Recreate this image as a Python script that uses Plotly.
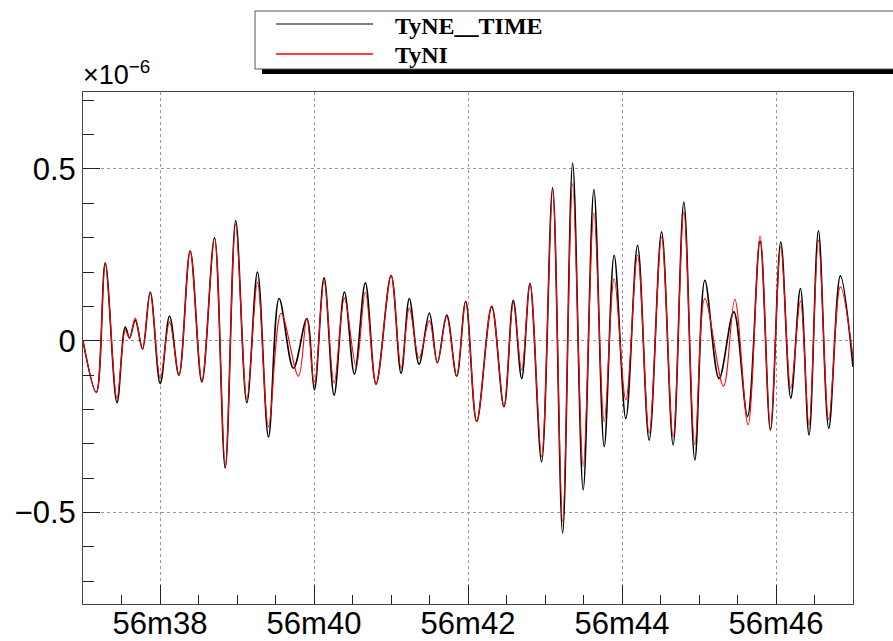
import plotly.graph_objects as go

# ---- data (seconds after 56m, values in units of 1e-6) ----
tyne_t = [37.000, 37.173, 37.289, 37.441, 37.549, 37.605, 37.679, 37.773, 37.873, 38.003,
          38.124, 38.246, 38.392, 38.544, 38.708, 38.847, 38.983, 39.128, 39.266, 39.409,
          39.547, 39.733, 39.907, 40.005, 40.131, 40.261, 40.395, 40.525, 40.667, 40.806,
          41.001, 41.131, 41.238, 41.364, 41.498, 41.602, 41.724, 41.853, 41.970, 42.113,
          42.308, 42.467, 42.588, 42.697, 42.805, 42.956, 43.099, 43.229, 43.359, 43.496,
          43.635, 43.769, 43.898, 44.050, 44.202, 44.353, 44.514, 44.664, 44.803, 44.946,
          45.076, 45.261, 45.452, 45.630, 45.793, 45.928, 46.062, 46.192, 46.317, 46.429,
          46.551, 46.685, 46.836, 47.000]
tyne_v = [0.0, -0.15, 0.226, -0.18, 0.04, 0.008, 0.06, -0.024, 0.142, -0.125,
          0.072, -0.10, 0.262, -0.12, 0.30, -0.37, 0.35, -0.18, 0.20, -0.28,
          0.123, -0.08, 0.065, -0.143, 0.183, -0.158, 0.142, -0.097, 0.169, -0.126,
          0.19, -0.095, 0.123, -0.068, 0.081, -0.064, 0.075, -0.103, 0.115, -0.235,
          0.10, -0.192, 0.118, -0.11, 0.167, -0.352, 0.445, -0.56, 0.517, -0.434,
          0.44, -0.308, 0.249, -0.226, 0.278, -0.289, 0.317, -0.303, 0.404, -0.347,
          0.176, -0.11, 0.084, -0.22, 0.29, -0.26, 0.288, -0.167, 0.152, -0.274,
          0.32, -0.255, 0.189, -0.076]

tyni_t = [37.000, 37.173, 37.289, 37.441, 37.549, 37.605, 37.679, 37.773, 37.873, 38.003,
          38.124, 38.246, 38.392, 38.544, 38.708, 38.847, 38.983, 39.128, 39.266, 39.409,
          39.573, 39.798, 39.907, 40.005, 40.131, 40.261, 40.395, 40.547, 40.667, 40.806,
          41.001, 41.131, 41.238, 41.364, 41.498, 41.602, 41.724, 41.853, 41.970, 42.113,
          42.308, 42.467, 42.588, 42.697, 42.805, 42.956, 43.099, 43.229, 43.359, 43.496,
          43.635, 43.769, 43.898, 44.050, 44.202, 44.353, 44.514, 44.664, 44.803, 44.946,
          45.076, 45.318, 45.465, 45.637, 45.793, 45.928, 46.062, 46.192, 46.317, 46.429,
          46.551, 46.685, 46.836, 47.000]
tyni_v = [0.0, -0.15, 0.226, -0.167, 0.03, 0.008, 0.066, -0.024, 0.142, -0.11,
          0.055, -0.10, 0.26, -0.115, 0.30, -0.366, 0.34, -0.17, 0.17, -0.25,
          0.08, -0.103, 0.065, -0.13, 0.175, -0.123, 0.124, -0.075, 0.142, -0.126,
          0.19, -0.08, 0.095, -0.05, 0.058, -0.064, 0.07, -0.103, 0.115, -0.235,
          0.099, -0.192, 0.11, -0.085, 0.167, -0.337, 0.44, -0.526, 0.457, -0.366,
          0.372, -0.235, 0.181, -0.172, 0.249, -0.268, 0.302, -0.279, 0.375, -0.303,
          0.123, -0.132, 0.121, -0.245, 0.305, -0.26, 0.273, -0.138, 0.116, -0.245,
          0.293, -0.23, 0.157, -0.047]

x_tick_vals = [38, 40, 42, 44, 46]
x_tick_text = ["56m38", "56m40", "56m42", "56m44", "56m46"]
y_tick_vals = [-0.5, 0, 0.5]
y_tick_text = ["\u22120.5", "0", "0.5"]
series_names = ["TyNE__TIME", "TyNI"]
series_colors = ["#000000", "#ff0000"]

fig = go.Figure()
fig.add_trace(go.Scatter(x=tyne_t, y=tyne_v, mode="lines", name=series_names[0],
                         line=dict(color=series_colors[0], width=1.6, shape="spline", smoothing=1.0),
                         showlegend=False, hoverinfo="skip"))
fig.add_trace(go.Scatter(x=tyni_t, y=tyni_v, mode="lines", name=series_names[1],
                         line=dict(color=series_colors[1], width=1.1, shape="spline", smoothing=1.0),
                         showlegend=False, hoverinfo="skip"))

tickfont = dict(family="Liberation Sans, Arial, sans-serif", size=31, color="black")
fig.update_xaxes(range=[37, 47], tickmode="array", tickvals=x_tick_vals, ticktext=x_tick_text,
                 ticks="inside", ticklen=19, tickwidth=1, tickcolor="#222",
                 minor=dict(tickmode="linear", tick0=37, dtick=0.5, ticks="inside", ticklen=9,
                            tickcolor="#222", showgrid=False),
                 showgrid=True, gridcolor="#999", griddash="3px,3px", gridwidth=1,
                 showline=True, linecolor="#444", linewidth=1, mirror=True,
                 zeroline=False, tickfont=tickfont, automargin=False, ticklabelstandoff=-8)
fig.update_yaxes(range=[-0.766, 0.724], tickmode="array", tickvals=y_tick_vals, ticktext=y_tick_text,
                 ticks="inside", ticklen=17, tickwidth=1, tickcolor="#222",
                 minor=dict(tickmode="linear", tick0=0, dtick=0.1, ticks="inside", ticklen=11,
                            tickcolor="#222", showgrid=False),
                 showgrid=True, gridcolor="#999", griddash="3px,3px", gridwidth=1,
                 showline=True, linecolor="#444", linewidth=1, mirror=True,
                 zeroline=False, tickfont=tickfont, automargin=False)

# ---- legend drawn ROOT-style (box with shadow) ----
shapes = [
    dict(type="rect", xref="paper", yref="paper", x0=0.2325, x1=1.08, y0=1.0352, y1=1.1465,
         fillcolor="black", line=dict(width=0), layer="above"),
    dict(type="rect", xref="paper", yref="paper", x0=0.2234, x1=1.07, y0=1.0449, y1=1.1582,
         fillcolor="white", line=dict(color="#555", width=1), layer="above"),
    dict(type="line", xref="paper", yref="paper", x0=0.2506, x1=0.3766, y0=1.1328, y1=1.1328,
         line=dict(color=series_colors[0], width=1.2), layer="above"),
    dict(type="line", xref="paper", yref="paper", x0=0.2506, x1=0.3766, y0=1.0742, y1=1.0742,
         line=dict(color=series_colors[1], width=1.3), layer="above"),
]
legfont = dict(family="Liberation Serif, Times New Roman, serif", size=24, color="black")
annotations = [
    dict(xref="paper", yref="paper", x=0.4026, y=1.1289, xanchor="left", yanchor="middle",
         text="<b>%s</b>" % series_names[0], showarrow=False, font=legfont),
    dict(xref="paper", yref="paper", x=0.4026, y=1.0732, xanchor="left", yanchor="middle",
         text="<b>%s</b>" % series_names[1], showarrow=False, font=legfont),
    dict(xref="paper", yref="paper", x=-0.003, y=1.0, xanchor="left", yanchor="bottom",
         text="\u00d710<sup>\u22126</sup>", showarrow=False,
         font=dict(family="Liberation Sans, Arial, sans-serif", size=27, color="black")),
]

fig.update_layout(width=893, height=641, margin=dict(l=83, r=40, t=92, b=37, autoexpand=False),
                  plot_bgcolor="white", paper_bgcolor="white", hovermode=False,
                  shapes=shapes, annotations=annotations, showlegend=False)

fig.write_html("out.html", config={"displayModeBar": False},
               post_script="document.body.style.margin='0';document.body.style.overflow='hidden';")
